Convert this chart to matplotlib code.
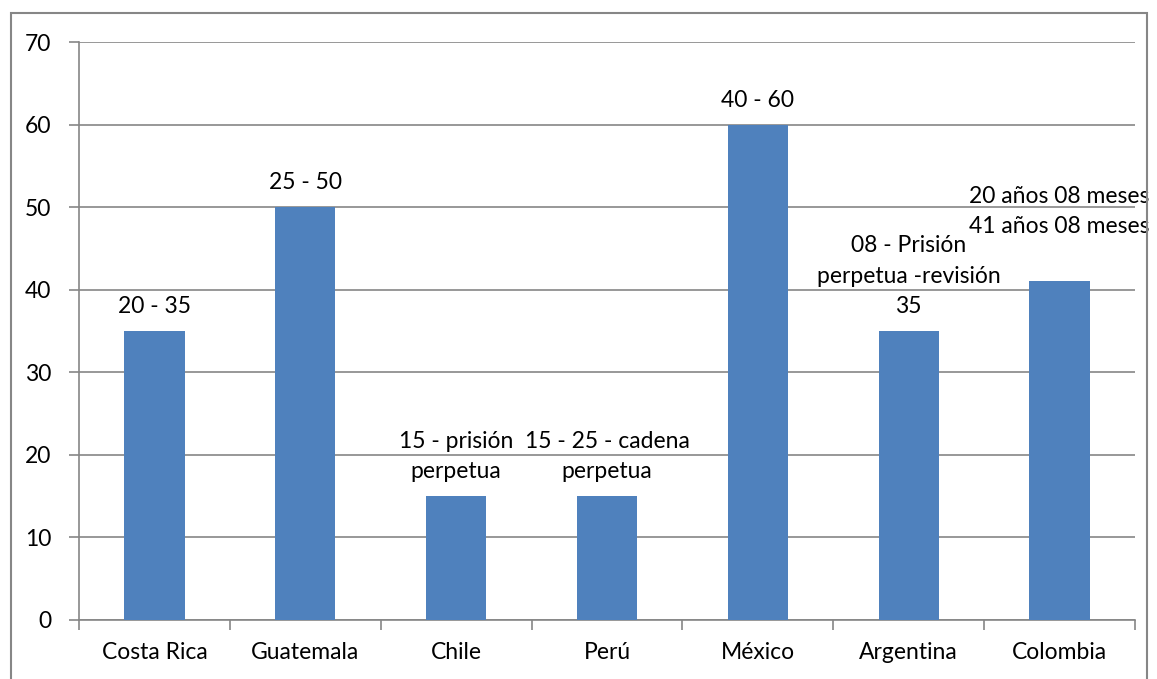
import matplotlib
matplotlib.use("Agg")
import matplotlib.pyplot as plt
from matplotlib.patches import Rectangle

categories = ["Costa Rica", "Guatemala", "Chile", "Perú", "México", "Argentina", "Colombia"]
values = [35, 50, 15, 15, 60, 35, 41]
bar_labels = ["20 - 35", "25 - 50", "15 - prisión\nperpetua", "15 - 25 - cadena\nperpetua",
              "40 - 60", "08 - Prisión\nperpetua -revisión\n35", "20 años 08 meses\n41 años 08 meses\n "]
yticks = [0, 10, 20, 30, 40, 50, 60, 70]

plt.rcParams['font.family'] = ['Lato', 'DejaVu Sans']
W, H = 1157, 679
fig = plt.figure(figsize=(W/100, H/100), dpi=100)
ax = fig.add_axes([79/W, 1-620/H, (1135-79)/W, (620-42)/H])

fs = 16.5
grid_c = "#868686"
x = list(range(len(categories)))
ax.bar(x, values, width=0.4, color="#4F81BD", zorder=3)
ax.set_xlim(-0.5, len(categories)-0.5)
ax.set_ylim(0, 70)
ax.set_yticks(yticks)
ax.yaxis.grid(True, color=grid_c, linewidth=1.2, zorder=0)
ax.set_xticks(x)
ax.set_xticklabels(categories, fontsize=fs)
ax.tick_params(axis='x', length=0, pad=16)
ax.set_xticks([i-0.5 for i in range(len(categories)+1)], minor=True)
ax.tick_params(axis='x', which='minor', length=7, color=grid_c, width=1.2)
ax.tick_params(axis='y', length=7, color=grid_c, width=1.2, labelsize=fs, pad=13)
for s in ['top', 'right']:
    ax.spines[s].set_visible(False)
for s in ['left', 'bottom']:
    ax.spines[s].set_color(grid_c)
    ax.spines[s].set_linewidth(1.2)

for xi, v, lab in zip(x, values, bar_labels):
    ax.annotate(lab, (xi, v), xytext=(0, 10), textcoords='offset points',
                ha='center', va='bottom', fontsize=fs, linespacing=1.55)

fig.patches.append(Rectangle((11/W, -0.1), (1147-11)/W, (679-13)/H + 0.1, transform=fig.transFigure,
                             fill=False, edgecolor=grid_c, linewidth=1.5))
fig.savefig("out.png", dpi=100)
